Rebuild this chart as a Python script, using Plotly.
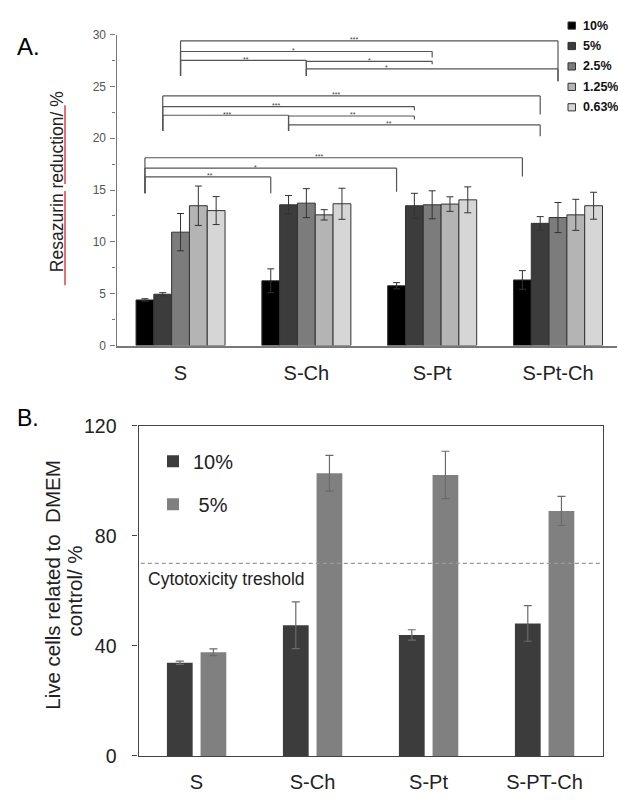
import plotly.graph_objects as go

# ---------------- Panel A data ----------------
cats_a = ["S", "S-Ch", "S-Pt", "S-Pt-Ch"]
conc_a = ["10%", "5%", "2.5%", "1.25%", "0.63%"]
a_10 = [4.40, 6.25, 5.77, 6.33]
a_10_err = [0.12, 1.15, 0.30, 0.90]
a_5 = [4.95, 13.58, 13.49, 11.79]
a_5_err = [0.15, 0.90, 1.20, 0.65]
a_2_5 = [10.94, 13.74, 13.58, 12.35]
a_2_5_err = [1.80, 1.40, 1.35, 1.45]
a_1_25 = [13.49, 12.61, 13.65, 12.61]
a_1_25_err = [1.90, 0.50, 0.70, 1.50]
a_0_63 = [13.02, 13.68, 14.06, 13.49]
a_0_63_err = [1.35, 1.50, 1.25, 1.30]

# significance brackets: (series idx, from group, to group, level, left drop end, right drop end, label, label pos)
sig_brackets = [
    (2, 0, 3, 29.40, 26.0, 25.5, "***", 0.46),
    (2, 0, 2, 28.37, 26.0, 27.8, "*", 0.45),
    (2, 0, 1, 27.52, 26.0, 26.0, "**", 0.52),
    (2, 1, 2, 27.42, 26.0, 27.15, "*", 0.50),
    (2, 1, 3, 26.70, 26.0, 25.5, "*", 0.32),
    (1, 0, 3, 24.09, 20.7, 22.3, "***", 0.46),
    (1, 0, 2, 23.06, 20.7, 22.7, "***", 0.45),
    (1, 0, 1, 22.22, 20.7, 20.7, "***", 0.51),
    (1, 1, 2, 22.15, 20.7, 21.82, "**", 0.51),
    (1, 1, 3, 21.29, 20.7, 20.19, "**", 0.40),
    (0, 0, 3, 18.12, 14.7, 16.3, "***", 0.46),
    (0, 0, 2, 17.12, 14.7, 14.84, "*", 0.44),
    (0, 0, 1, 16.27, 14.7, 14.7, "**", 0.52),
]

# ---------------- Panel B data ----------------
cats_b = ["S", "S-Ch", "S-Pt", "S-PT-Ch"]
conc_b = ["10%", " 5%"]
b_10 = [33.9, 47.5, 44.0, 48.2]
b_10_err = [0.6, 8.5, 1.9, 6.5]
b_5 = [37.7, 102.8, 102.2, 89.1]
b_5_err = [1.2, 6.5, 8.6, 5.3]
threshold = 70
threshold_label = "Cytotoxicity treshold"

# ---------------- styles ----------------
FONT = "Liberation Sans, Arial, sans-serif"
colors_a = ["#000000", "#3c3c3c", "#7c7c7c", "#b4b4b4", "#d6d6d6"]
colors_b = ["#3c3c3c", "#808080"]

group_w_a = 0.7075
bar_w_a = group_w_a / len(conc_a)

fig = go.Figure()

a_vals = [a_10, a_5, a_2_5, a_1_25, a_0_63]
a_errs = [a_10_err, a_5_err, a_2_5_err, a_1_25_err, a_0_63_err]
for j, (name, vals, errs, col) in enumerate(zip(conc_a, a_vals, a_errs, colors_a)):
    fig.add_trace(go.Bar(
        x=cats_a, y=vals, name=name, showlegend=False,
        width=bar_w_a, offset=-group_w_a / 2 + j * bar_w_a,
        marker=dict(color=col, line=dict(color="#333333", width=1)),
        error_y=dict(type="data", array=errs, color="#333333", thickness=1, width=3.5),
        xaxis="x", yaxis="y",
    ))

b_vals = [b_10, b_5]
b_errs = [b_10_err, b_5_err]
b_offsets = [-0.255, 0.035]
for j, (name, vals, errs, col) in enumerate(zip(conc_b, b_vals, b_errs, colors_b)):
    fig.add_trace(go.Bar(
        x=cats_b, y=vals, name=name,
        width=0.222, offset=b_offsets[j],
        marker=dict(color=col, line=dict(width=0)),
        error_y=dict(type="data", array=errs, color="#6a6a6a", thickness=1.2, width=4),
        xaxis="x2", yaxis="y2", legend="legend2", legendgroup="b" + name,
    ))

shapes = []
annotations = []


def xpos(g, s):
    return g - group_w_a / 2 + (s + 0.5) * bar_w_a


for s, g1, g2, lvl, ld, rd, lab, frac in sig_brackets:
    x1, x2 = xpos(g1, s), xpos(g2, s)
    line = dict(color="#555555", width=1.2)
    shapes.append(dict(type="line", xref="x", yref="y", x0=x1, x1=x2, y0=lvl, y1=lvl, line=line))
    shapes.append(dict(type="line", xref="x", yref="y", x0=x1, x1=x1, y0=lvl, y1=ld, line=line))
    shapes.append(dict(type="line", xref="x", yref="y", x0=x2, x1=x2, y0=lvl, y1=rd, line=line))
    annotations.append(dict(x=x1 + frac * (x2 - x1), y=lvl, xref="x", yref="y", text=lab,
                            showarrow=False, yanchor="middle", yshift=1,
                            font=dict(size=7, color="#444444", family=FONT)))

# legend of panel A (key boxes + labels, upper right corner)
for j, (name, col) in enumerate(zip(conc_a, colors_a)):
    yc = 15 + 21 * j
    shapes.append(dict(type="rect", xref="paper", yref="paper",
                       x0=568 / 618, x1=575.5 / 618, y0=1 - (yc - 3.7) / 800, y1=1 - (yc + 3.7) / 800,
                       fillcolor=col, line=dict(color="#333333", width=1)))
    annotations.append(dict(x=581 / 618, y=1 - yc / 800, xref="paper", yref="paper", text=name,
                            showarrow=False, xanchor="left", yanchor="middle",
                            font=dict(size=12.5, color="#111111", family=FONT, weight="bold")))

# threshold line
shapes.append(dict(type="line", xref="x2 domain", yref="y2", x0=0.005, x1=0.995,
                   y0=threshold, y1=threshold,
                   line=dict(color="#9a9a9a", width=1.3, dash="4px,3px")))
annotations.append(dict(x=0.016, y=64.3, xref="x2 domain", yref="y2", text=threshold_label,
                        showarrow=False, xanchor="left", yanchor="middle",
                        font=dict(size=17.5, color="#222222", family=FONT)))

# red spell-check underline on title A
for y0, y1 in [(97, 178), (185, 282)]:
    shapes.append(dict(type="line", xref="paper", yref="paper", x0=65 / 618, x1=65 / 618,
                       y0=1 - y0 / 800, y1=1 - y1 / 800, line=dict(color="#e04040", width=1.5)))

# panel labels and axis titles
annotations += [
    dict(x=15 / 618, y=1 - 37 / 800, xref="paper", yref="paper", text="A.", showarrow=False,
         xanchor="left", yanchor="middle", font=dict(size=24, color="#000000", family=FONT)),
    dict(x=15 / 618, y=1 - 419 / 800, xref="paper", yref="paper", text="B.", showarrow=False,
         xanchor="left", yanchor="middle", font=dict(size=23, color="#000000", family=FONT)),
    dict(x=57 / 618, y=1 - 176 / 800, xref="paper", yref="paper", text="Resazurin reduction/ %",
         showarrow=False, textangle=-90, xanchor="center", yanchor="middle",
         font=dict(size=17.5, color="#222222", family=FONT)),
    dict(x=53 / 618, y=1 - 590 / 800, xref="paper", yref="paper",
         text="Live cells related to&nbsp; DMEM",
         showarrow=False, textangle=-90, xanchor="center", yanchor="middle",
         font=dict(size=20.5, color="#222222", family=FONT)),
    dict(x=75 / 618, y=1 - 597 / 800, xref="paper", yref="paper", text="control/ %",
         showarrow=False, textangle=-90, xanchor="center", yanchor="middle",
         font=dict(size=20.5, color="#222222", family=FONT)),
]

fig.update_layout(
    width=618, height=800,
    margin=dict(l=0, r=0, t=0, b=0),
    paper_bgcolor="white", plot_bgcolor="white",
    barmode="overlay",
    font=dict(family=FONT),
    shapes=shapes, annotations=annotations,
    xaxis=dict(domain=[116.5 / 618, 617 / 618], anchor="y", type="category",
               range=[-0.509, 3.469], showline=True, linecolor="#777777", linewidth=1.5,
               ticks="outside", ticklen=9, tickcolor="rgba(0,0,0,0)", showgrid=False,
               tickfont=dict(size=20, color="#222222", family=FONT)),
    yaxis=dict(domain=[1 - 344 / 800, 1 - 24.3 / 800], anchor="x", range=[0, 30],
               tickvals=[0, 5, 10, 15, 20, 25, 30], showline=True, linecolor="#777777",
               linewidth=1.2, ticks="outside", ticklen=5, tickcolor="#777777", showgrid=False,
               zeroline=False, ticklabelstandoff=2,
               minor=dict(tickvals=[2.5, 7.5, 12.5, 17.5, 22.5, 27.5], ticks="outside",
                          ticklen=3, tickcolor="#777777"),
               tickfont=dict(size=12, color="#555555", family=FONT)),
    xaxis2=dict(domain=[138.5 / 618, 602.5 / 618], anchor="y2", type="category",
                range=[-0.5, 3.5], showline=True, mirror=True, linecolor="#444444",
                linewidth=1.2, ticks="outside", ticklen=8, tickcolor="rgba(0,0,0,0)",
                showgrid=False, tickfont=dict(size=20, color="#222222", family=FONT)),
    yaxis2=dict(domain=[1 - 766 / 800, 1 - 426.7 / 800], anchor="x2", range=[0, 120],
                tickvals=[0, 40, 80, 120], showline=True, mirror=True, linecolor="#444444",
                linewidth=1.2, ticks="outside", ticklen=5, tickcolor="#444444",
                showgrid=False, zeroline=False, ticklabelstandoff=12,
                tickfont=dict(size=19.5, color="#222222", family=FONT)),
    legend2=dict(x=153 / 618, y=1 - 443 / 800, xanchor="left", yanchor="top",
                 bgcolor="rgba(0,0,0,0)", tracegroupgap=14, itemwidth=30,
                 font=dict(size=20, color="#222222", family=FONT)),
)

fig.write_html("out.html", config={"displayModeBar": False},
               post_script="document.body.style.margin='0';document.body.style.padding='0';")
